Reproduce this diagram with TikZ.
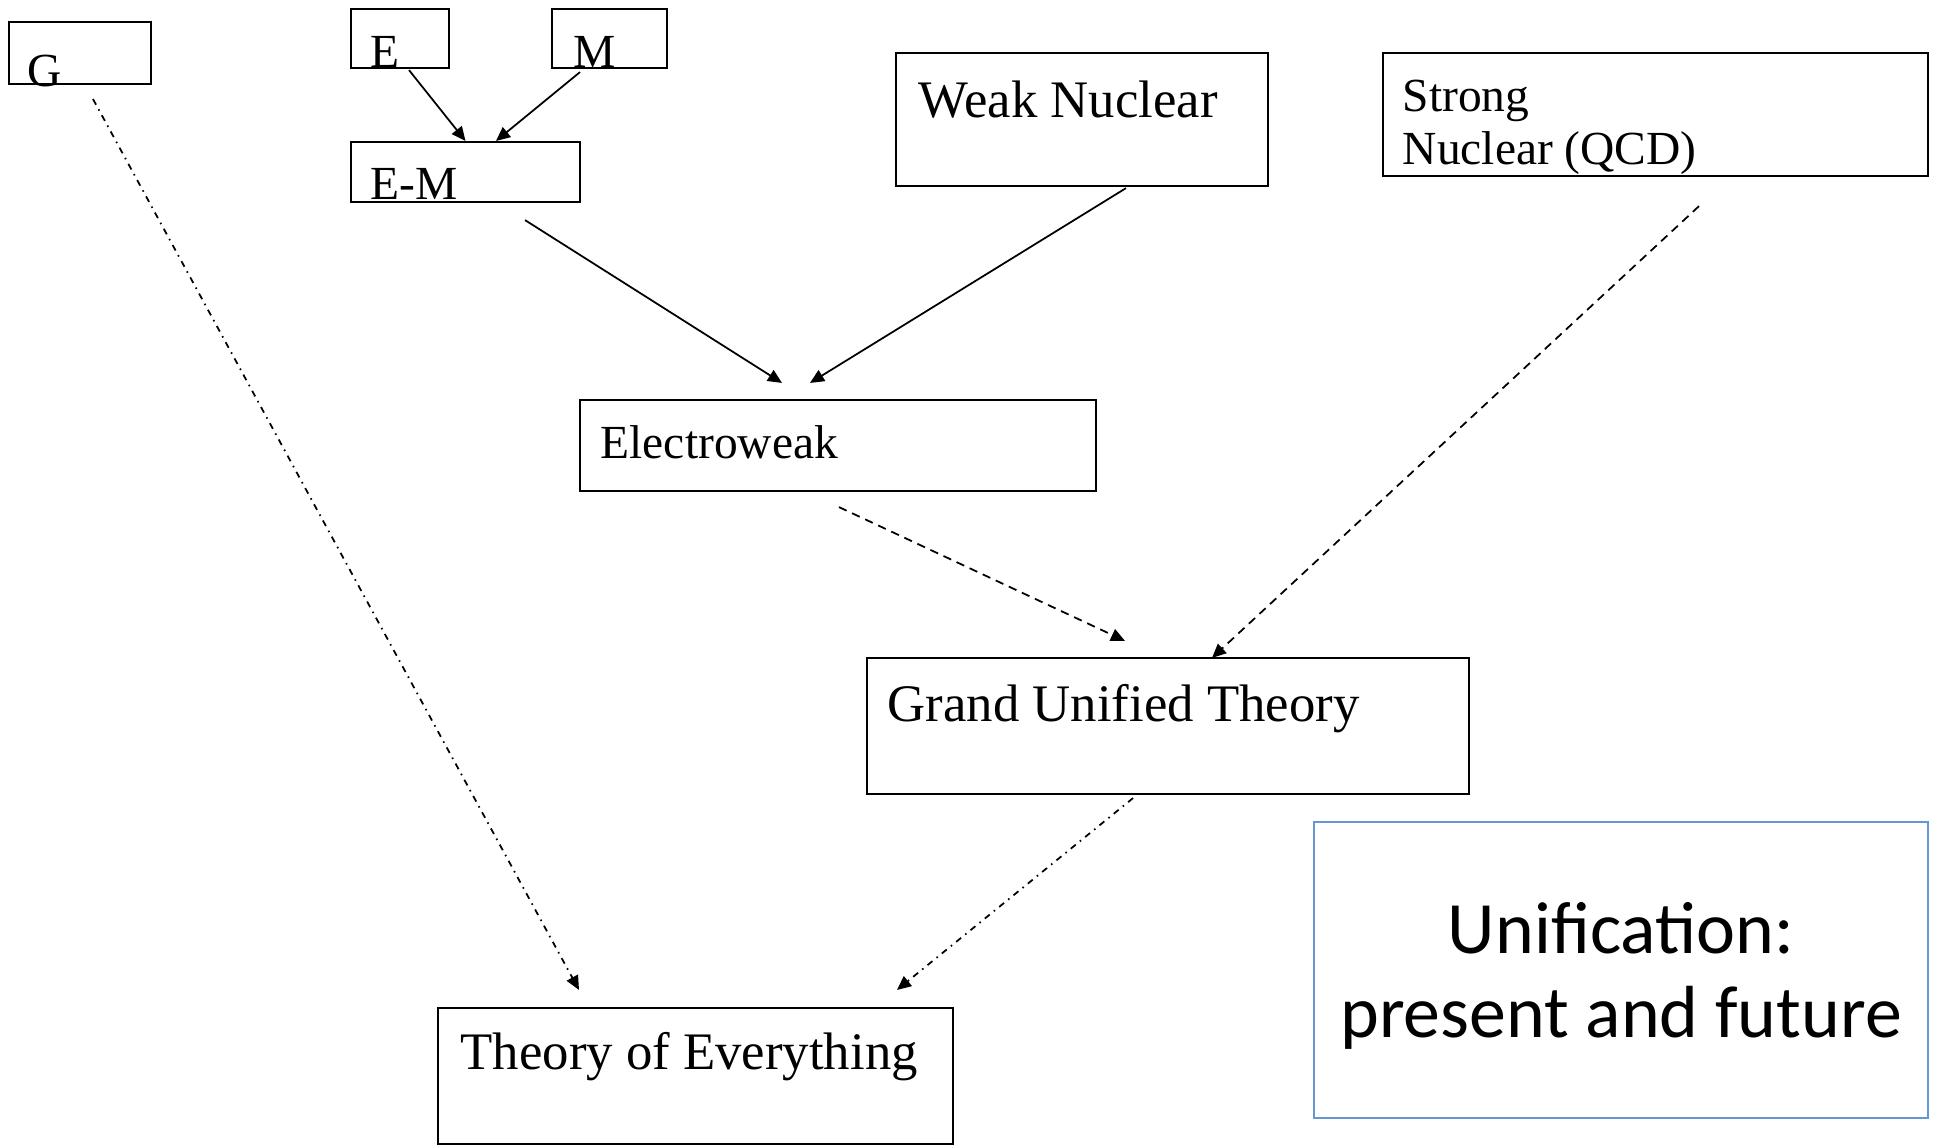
\documentclass[tikz,border=0pt]{standalone}
\usepackage{fontspec}
\setmainfont{Liberation Serif}
\newfontfamily\calibri{Carlito}
\usetikzlibrary{arrows.meta,calc}
\definecolor{boxblue}{RGB}{100,152,212}
\tikzset{
  box/.style={draw=black,line width=0.6pt,rectangle,inner sep=0pt},
  lbl/.style={anchor=base west,inner sep=0pt},
  arr/.style={line width=0.5pt,-{Triangle[length=4pt,width=3.6pt]}},
  dsh/.style={arr,dash pattern=on 2.4pt off 1.7pt},
  dshdot/.style={arr,dash pattern=on 1.8pt off 1.5pt on 0.45pt off 1.5pt},
}
\begin{document}
\begin{tikzpicture}[x=0.01cm,y=-0.01cm]
\useasboundingbox (0,0) rectangle (1940,1147);
% boxes
\node[box,minimum width=1.42cm,minimum height=0.62cm] (g) at (80,53) {};
\node[box,minimum width=0.98cm,minimum height=0.59cm] (e) at (400,38.5) {};
\node[box,minimum width=1.15cm,minimum height=0.59cm] (m) at (609.5,38.5) {};
\node[box,minimum width=2.29cm,minimum height=0.60cm] (em) at (465.5,172) {};
\node[box,minimum width=3.72cm,minimum height=1.33cm] (weak) at (1082,119.5) {};
\node[box,minimum width=5.45cm,minimum height=1.23cm] (strong) at (1655.5,114.5) {};
\node[box,minimum width=5.16cm,minimum height=0.91cm] (ew) at (838,445.5) {};
\node[box,minimum width=6.02cm,minimum height=1.36cm] (gut) at (1168,726) {};
\node[box,minimum width=5.15cm,minimum height=1.36cm] (toe) at (695.5,1076) {};
\node[draw=boxblue,line width=0.6pt,rectangle,inner sep=0pt,minimum width=6.14cm,minimum height=2.96cm] (unif) at (1621,970) {};
% labels
\node[lbl,font=\fontsize{13.5}{16}\selectfont] (gl) at (27,86) {G};
\node[lbl,font=\fontsize{13.5}{16}\selectfont] (el) at (370,67) {E};
\node[lbl,font=\fontsize{13.5}{16}\selectfont] (ml) at (573,67) {M};
\node[lbl,font=\fontsize{13.5}{16}\selectfont] (eml) at (370,199) {E-M};
\node[lbl,font=\fontsize{15}{18}\selectfont] (weakl) at (918,117) {Weak Nuclear};
\node[lbl,font=\fontsize{13.5}{16}\selectfont] (strongl1) at (1402,111) {Strong};
\node[lbl,font=\fontsize{13.5}{16}\selectfont] (strongl2) at (1402,164) {Nuclear (QCD)};
\node[lbl,font=\fontsize{13.5}{16}\selectfont] (ewl) at (600,458) {Electroweak};
\node[lbl,font=\fontsize{15}{18}\selectfont] (gutl) at (887,721) {Grand Unified Theory};
\node[lbl,font=\fontsize{15}{18}\selectfont] (toel) at (460,1069) {Theory of Everything};
\node[anchor=base,inner sep=0pt,font=\calibri\fontsize{21}{24}\selectfont] (u1) at (1621,953) {Unification:};
\node[anchor=base,inner sep=0pt,font=\calibri\fontsize{21}{24}\selectfont] (u2) at (1621,1037) {present and future};
% connectors
\draw[arr] ($(e.south)+(9,1)$) -- (em.north);
\draw[arr] ($(m.south)+(-29.5,3)$) -- ($(em.north)+(30.5,0)$);
\draw[arr] ($(em.south)+(59.5,17)$) -- ($(ew.north)+(-56,-16)$);
\draw[arr] ($(weak.south)+(44,1)$) -- ($(ew.north)+(-28,-16)$);
\draw[dsh] ($(ew.south)+(1,15)$) -- ($(gut.north)+(-43,-16)$);
\draw[dsh] ($(strong.south)+(43.5,29)$) -- ($(gut.north)+(44,1)$);
\draw[dshdot] ($(gut.south)+(-35,3)$) -- ($(toe.north)+(201.5,-17)$);
\draw[dshdot] ($(g.south)+(13,14)$) -- ($(toe.north)+(-116.5,-17)$);
\end{tikzpicture}
\end{document}
